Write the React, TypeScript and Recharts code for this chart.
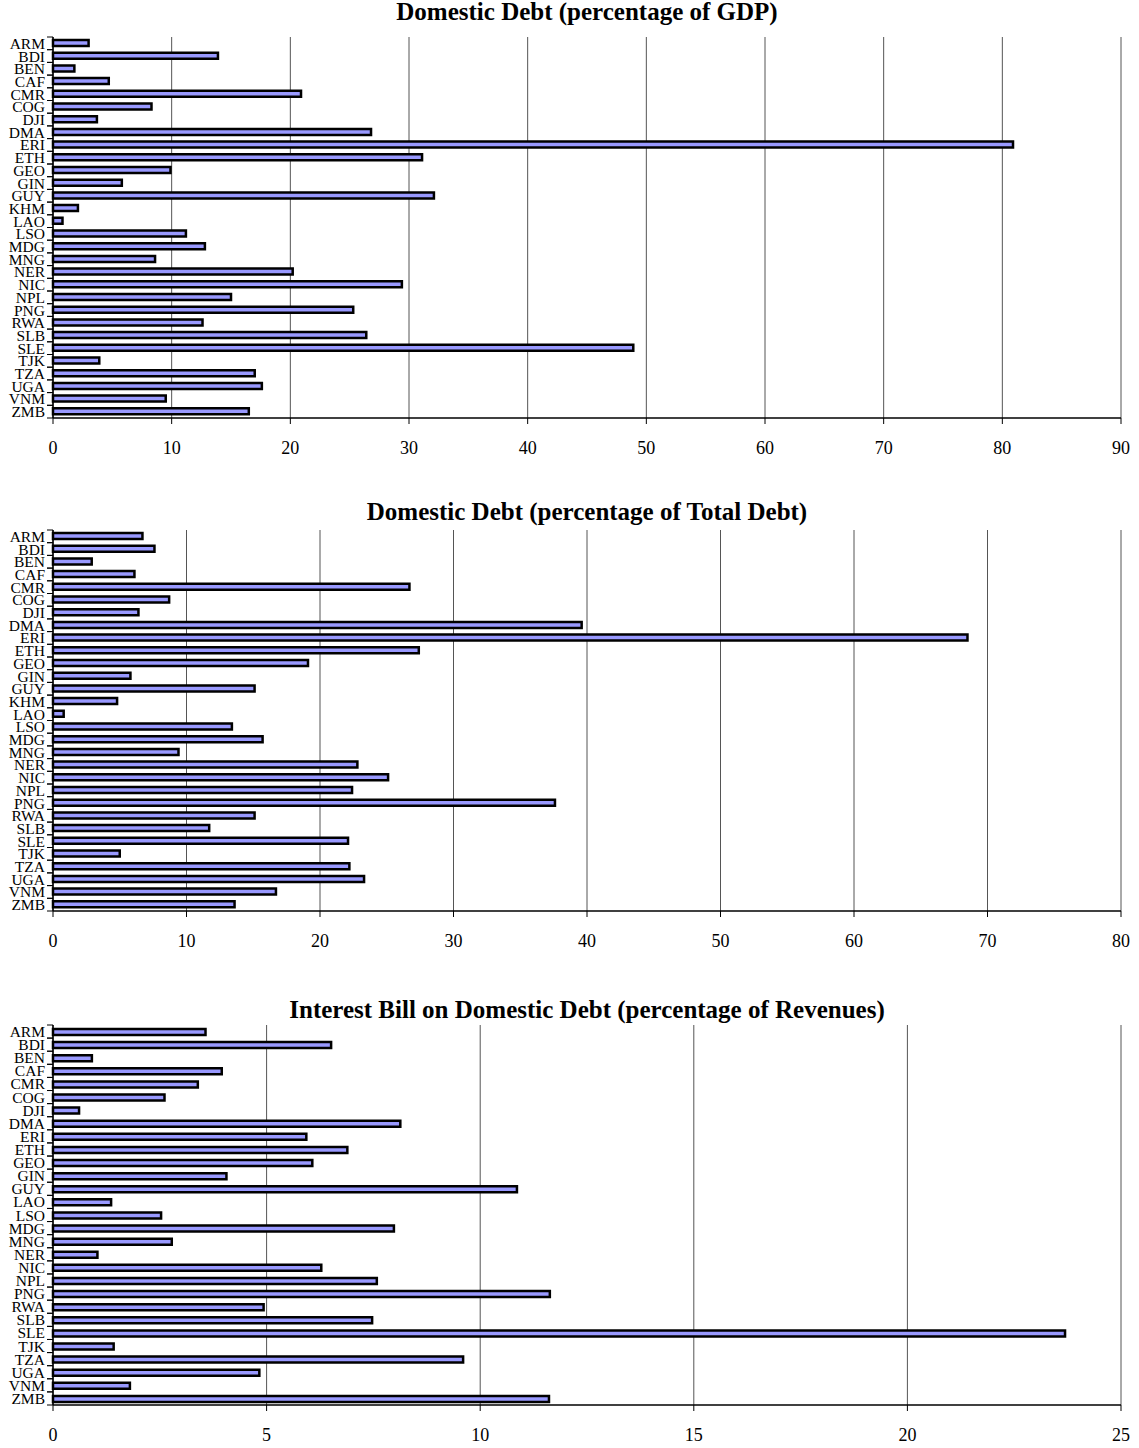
import React from "react";
import { BarChart, Bar, XAxis, YAxis, CartesianGrid } from "recharts";

const cats30 = ["ARM","BDI","BEN","CAF","CMR","COG","DJI","DMA","ERI","ETH","GEO","GIN","GUY","KHM","LAO","LSO","MDG","MNG","NER","NIC","NPL","PNG","RWA","SLB","SLE","TJK","TZA","UGA","VNM","ZMB"];
const cats29 = ["ARM","BDI","BEN","CAF","CMR","COG","DJI","DMA","ERI","ETH","GEO","GIN","GUY","LAO","LSO","MDG","MNG","NER","NIC","NPL","PNG","RWA","SLB","SLE","TJK","TZA","UGA","VNM","ZMB"];

const gdpValues = [3.0,13.9,1.8,4.7,20.9,8.3,3.7,26.8,80.9,31.1,9.9,5.8,32.1,2.1,0.8,11.2,12.8,8.6,20.2,29.4,15.0,25.3,12.6,26.4,48.9,3.9,17.0,17.6,9.5,16.5];
const totalDebtValues = [6.7,7.6,2.9,6.1,26.7,8.7,6.4,39.6,68.5,27.4,19.1,5.8,15.1,4.8,0.8,13.4,15.7,9.4,22.8,25.1,22.4,37.6,15.1,11.7,22.1,5.0,22.2,23.3,16.7,13.6];
const interestValues = [3.57,6.51,0.91,3.95,3.39,2.61,0.61,8.13,5.93,6.89,6.07,4.06,10.86,1.36,2.53,7.98,2.78,1.04,6.28,7.58,11.63,4.93,7.47,23.69,1.42,9.60,4.83,1.80,11.61];

const gdpTicks = [0,10,20,30,40,50,60,70,80,90];
const totalTicks = [0,10,20,30,40,50,60,70,80];
const interestTicks = [0,5,10,15,20,25];

const FONT = "'Liberation Serif', 'Times New Roman', serif";
const W = 1139;
const AXIS_X = 53;
const RIGHT = 1121;

function CatTick(props: any) {
  const { x, y, payload, band } = props;
  const ax = x + 8;
  return (
    <g>
      <text x={x} y={y} textAnchor="end" dominantBaseline="central" fontSize={15.5} fontFamily={FONT} fill="#000">
        {payload.value}
      </text>
      <line x1={ax - 6} x2={ax} y1={y - band / 2} y2={y - band / 2} stroke="#000" strokeWidth={1} />
      <line x1={ax - 6} x2={ax} y1={y + band / 2} y2={y + band / 2} stroke="#000" strokeWidth={1} />
    </g>
  );
}

function Panel(props: any) {
  const { title, cats, values, max, ticks, top, height, plotTop, plotBottom, titleY } = props;
  const data = cats.map((c: string, i: number) => ({ name: c, v: values[i] }));
  const band = (plotBottom - plotTop) / cats.length;
  return (
    <div style={{ position: "absolute", left: 0, top, width: W, height }}>
      <div
        style={{
          position: "absolute",
          left: AXIS_X,
          width: RIGHT - AXIS_X,
          top: titleY - 14,
          textAlign: "center",
          fontFamily: FONT,
          fontWeight: "bold",
          fontSize: 25,
          lineHeight: "28px",
          whiteSpace: "nowrap",
        }}
      >
        {title}
      </div>
      <BarChart
        width={W}
        height={height}
        data={data}
        layout="vertical"
        margin={{ top: plotTop, right: W - RIGHT, bottom: height - plotBottom - 30, left: 0 }}
        barCategoryGap={0}
      >
        <CartesianGrid horizontal={false} vertical={true} stroke="#555" strokeWidth={1} />
        <XAxis
          type="number"
          dataKey="v"
          domain={[0, max]}
          ticks={ticks}
          interval={0}
          height={30}
          tickSize={6}
          tickMargin={17}
          axisLine={{ stroke: "#000", strokeWidth: 1.5 }}
          tickLine={{ stroke: "#000" }}
          tick={{ fontSize: 18, fontFamily: FONT, fill: "#000" }}
        />
        <XAxis
          xAxisId="top"
          orientation="top"
          type="number"
          domain={[0, max]}
          height={0}
          tick={false}
          tickLine={false}
          axisLine={{ stroke: "#808080", strokeWidth: 1.5 }}
        />
        <YAxis
          type="category"
          dataKey="name"
          width={AXIS_X}
          interval={0}
          tickSize={0}
          tickMargin={8}
          tickLine={false}
          axisLine={{ stroke: "#000", strokeWidth: 1.5 }}
          tick={<CatTick band={band} />}
        />
        <YAxis
          yAxisId="right"
          orientation="right"
          type="category"
          dataKey="name"
          width={0}
          tick={false}
          tickLine={false}
          axisLine={{ stroke: "#808080", strokeWidth: 1.5 }}
        />
        <Bar dataKey="v" fill="#9999FF" stroke="#000" strokeWidth={2.5} barSize={6} isAnimationActive={false} />
      </BarChart>
    </div>
  );
}

export default function App() {
  return (
    <div style={{ position: "absolute", left: 0, top: 0, width: W, height: 1448, background: "#fff" }}>
      <Panel
        title="Domestic Debt (percentage of GDP)"
        cats={cats30}
        values={gdpValues}
        max={90}
        ticks={gdpTicks}
        top={0}
        height={470}
        plotTop={37}
        plotBottom={418}
        titleY={12}
      />
      <Panel
        title="Domestic Debt (percentage of Total Debt)"
        cats={cats30}
        values={totalDebtValues}
        max={80}
        ticks={totalTicks}
        top={495}
        height={470}
        plotTop={35}
        plotBottom={416}
        titleY={17}
      />
      <Panel
        title="Interest Bill on Domestic Debt (percentage of Revenues)"
        cats={cats29}
        values={interestValues}
        max={25}
        ticks={interestTicks}
        top={995}
        height={453}
        plotTop={30}
        plotBottom={410}
        titleY={15}
      />
    </div>
  );
}
